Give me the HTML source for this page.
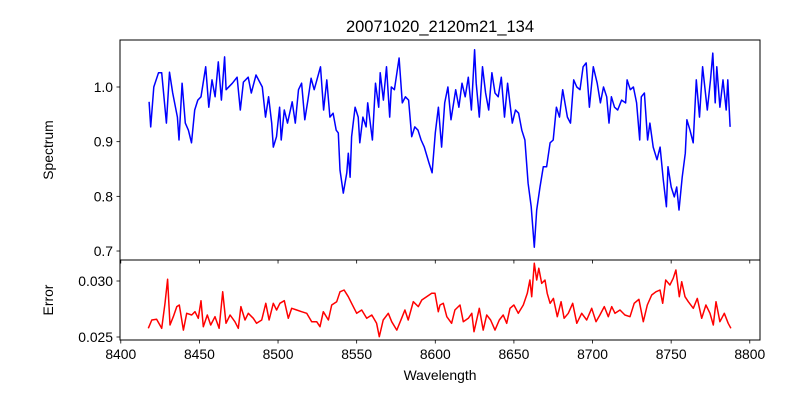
<!DOCTYPE html>
<html><head><meta charset="utf-8"><style>
body{margin:0;background:#fff;}
svg{display:block;font-family:"Liberation Sans","DejaVu Sans",sans-serif;}
</style></head><body>
<svg id="chart" width="800" height="400" viewBox="0 0 800 400" xmlns="http://www.w3.org/2000/svg">
<rect width="800" height="400" fill="#fff"/>
<text x="440" y="32" font-size="16.5" text-anchor="middle">20071020_2120m21_134</text>
<g id="top"></g><g id="bot"></g>
<text transform="translate(53,150) rotate(-90)" font-size="13.9" text-anchor="middle">Spectrum</text>
<text transform="translate(53,300) rotate(-90)" font-size="13.9" text-anchor="middle">Error</text>
<text x="440" y="380" font-size="13.9" text-anchor="middle">Wavelength</text>
</svg>
<script>
const specWave=[8418,8419,8421,8424,8426,8429,8431,8433,8436,8437,8439,8441,8443,8445,8447,8449,8451,8454,8456,8458,8460,8462,8464,8466,8467,8471,8474,8476,8478,8481,8483,8486,8490,8492,8494,8496,8497,8499,8501,8502,8504,8506,8509,8511,8513,8515,8517,8519,8521,8523,8527,8529,8531,8533,8535,8537,8538.3,8539.4,8541.5,8543.7,8544.7,8545.8,8546.8,8549,8551,8552,8554,8556,8557,8560,8562,8564,8565,8567,8569,8571,8572,8574,8577,8579,8581,8583,8585,8587,8589,8591,8593,8596,8598,8600,8602,8604,8606,8608,8610,8613,8615,8617,8619,8621,8623,8625,8626,8628,8630,8632,8634,8636,8638,8640,8642,8644,8646,8649,8651,8653,8655,8657,8659,8661,8663,8664.5,8666.6,8668.7,8670.8,8673,8675,8677,8679,8681,8684,8686,8688,8690,8692,8694,8696,8698,8700.5,8703,8705,8707,8709,8710.5,8712,8714,8716,8718.5,8721,8722,8724,8726,8728,8730,8731,8733,8735,8736.5,8738.6,8741,8743,8745,8747,8748,8750,8752,8753.5,8755,8757,8759,8760,8762,8764,8766,8768,8770,8773,8775,8776.5,8778,8779,8781,8783,8785,8786,8787.5];
const specFlux=[.973,.927,1.0,1.026,1.026,.934,1.027,.989,.945,.903,1.007,.934,.921,.898,.958,.976,.982,1.037,.963,1.013,.982,1.046,.976,1.055,.995,1.007,1.018,.958,1.009,1.018,.989,1.022,1.0,.945,.982,.934,.89,.909,.963,.903,.958,.934,.973,.934,.995,1.007,.94,.976,1.016,.995,1.037,.958,1.013,.945,.952,.921,.916,.848,.806,.843,.879,.835,.909,.963,.945,.898,.945,.927,.971,.903,1.007,.963,1.026,.976,1.037,.945,1.0,.995,1.053,.971,.982,.976,.909,.927,.921,.903,.89,.861,.843,.916,.963,.89,.971,1.0,.94,.995,.963,1.007,.982,1.018,.958,1.068,1.007,.945,1.037,.989,.958,1.026,.989,.982,1.018,.945,1.007,.934,.958,.952,.921,.903,.824,.781,.707,.775,.817,.854,.854,.898,.903,.963,.945,.995,.945,.934,1.013,1.0,.995,1.037,1.044,.963,1.037,1.007,.971,1.0,.982,.934,.982,.963,.958,.976,.971,1.013,.995,1.0,.971,.903,.982,.989,.903,.934,.89,.867,.89,.83,.781,.854,.817,.799,.817,.775,.835,.879,.94,.921,.898,1.013,.945,1.037,.958,1.013,1.062,.971,1.037,.963,1.013,.958,1.013,.927];
const errWave=[8417.5,8419.7,8422.8,8426,8428.1,8429.8,8431.3,8433.4,8435.6,8437.2,8439.8,8441.9,8445.1,8447.2,8449.3,8451,8452.5,8455,8457.2,8459.9,8462.5,8464.8,8466.9,8469.5,8472.6,8474.7,8476.4,8479,8481.1,8484.3,8486.4,8489.6,8492.2,8494.3,8497,8499.1,8501.2,8504,8506.5,8508.7,8511.9,8515,8518.2,8521.4,8524.6,8526.7,8528.8,8532,8534.1,8537.3,8539.4,8542,8544.7,8546.8,8550,8553.2,8556.4,8559.6,8562.7,8564.4,8566.9,8570.1,8572.3,8575.5,8578.6,8580.7,8582.8,8586,8589.2,8591.4,8594.5,8597.7,8599.8,8601.9,8603,8605.1,8607.3,8610.4,8612.5,8615.7,8617.8,8621,8623.2,8624.6,8628,8630.5,8632.7,8635.2,8638,8640.7,8643.2,8645.4,8647.5,8650,8652.8,8656,8658.5,8660.2,8661.3,8663,8664.5,8665.8,8667.7,8669.8,8671.2,8673,8675.1,8677.6,8680,8681.9,8684.6,8687.4,8690,8693.1,8696.3,8699.5,8702.2,8704.7,8707.5,8710,8712.2,8714.3,8717.5,8720.6,8723.8,8726.5,8729.5,8732.3,8734.8,8737.6,8740.3,8742.9,8744.6,8746.5,8749.2,8751.3,8753,8755.2,8756.7,8758.8,8760.9,8764.1,8766.6,8769.4,8772.1,8774.7,8776.8,8778.5,8781,8783.8,8786.3,8788];
const errVal=[.02578,.02652,.02658,.02578,.02801,.03015,.02607,.02681,.02771,.02786,.02562,.02712,.02696,.02726,.02667,.02824,.02592,.02696,.02607,.02681,.02578,.02904,.02622,.02696,.02637,.02578,.02771,.02652,.02712,.02667,.02622,.02652,.02801,.02652,.02801,.02741,.02801,.02824,.02667,.02756,.02741,.02726,.02712,.02637,.02637,.02592,.02726,.02652,.02786,.02815,.02904,.0292,.0286,.02801,.02712,.02741,.02667,.02696,.02622,.02503,.02652,.02712,.02637,.02562,.02667,.02741,.02652,.02815,.02771,.0283,.0286,.0289,.0289,.02726,.02786,.02801,.02681,.02622,.02741,.02786,.02637,.02667,.02712,.02547,.02756,.02562,.02696,.02652,.02562,.02652,.02696,.02622,.02756,.02786,.02712,.02786,.0289,.03009,.0286,.03158,.03009,.03113,.02979,.03009,.0289,.02801,.02845,.02681,.02815,.02667,.02712,.02801,.02622,.02712,.02652,.02756,.02637,.02696,.02771,.02681,.02771,.02712,.02741,.02696,.02681,.02801,.02837,.02637,.02786,.02875,.02904,.0292,.02801,.03009,.02964,.03024,.03098,.0286,.02994,.0286,.02815,.02756,.02845,.02667,.02786,.02712,.02607,.02815,.02637,.02712,.02622,.02578];
const xTicks=[8400,8450,8500,8550,8600,8650,8700,8750,8800];
const topTicks=[0.7,0.8,0.9,1.0];
const topTickLabels=["0.7","0.8","0.9","1.0"];
const botTicks=[0.025,0.030];
const botTickLabels=["0.025","0.030"];

const NS="http://www.w3.org/2000/svg";
const X0=120,X1=760,WMIN=8399.5,WMAX=8806.5;
const xs=w=>X0+(w-WMIN)/(WMAX-WMIN)*(X1-X0);
const yTop=f=>87+(1.0-f)*546.7;
const yBot=e=>281+(0.030-e)*11200;
function mk(tag,attrs,parent){const el=document.createElementNS(NS,tag);for(const k in attrs)el.setAttribute(k,attrs[k]);parent.appendChild(el);return el;}
function panel(g,top,bot,xv,yv,yfn,color,ticks,labels,showX,name){
  const p=mk('polyline',{points:xv.map((w,i)=>xs(w).toFixed(1)+','+yfn(yv[i]).toFixed(1)).join(' '),fill:'none',stroke:color,'stroke-width':1.5,'stroke-linejoin':'round'},g);
  
  
  const fr=mk('rect',{x:X0,y:top,width:X1-X0,height:bot-top,fill:'none',stroke:'#000','stroke-width':1},g);
  
  
  ticks.forEach((t,i)=>{const y=yfn(t);
    mk('line',{x1:X0-3.5,x2:X0,y1:y,y2:y,stroke:'#000','stroke-width':0.8},g);
    const tx=mk('text',{x:X0-7,y:y+5,'font-size':13.9,'text-anchor':'end'},g);tx.textContent=labels[i];
    
    });
  xTicks.forEach(t=>{const x=xs(t);
    mk('line',{x1:x,x2:x,y1:bot,y2:bot+3.5,stroke:'#000','stroke-width':0.8},g);
    if(showX){const tx=mk('text',{x:x,y:bot+19,'font-size':13.9,'text-anchor':'middle'},g);tx.textContent=t;
      
      }});
}
panel(document.getElementById('top'),40,260,specWave,specFlux,yTop,'#0000ff',topTicks,topTickLabels,false,'spectrum');
panel(document.getElementById('bot'),260,340,errWave,errVal,yBot,'#ff0000',botTicks,botTickLabels,true,'error');
</script>
</body></html>
